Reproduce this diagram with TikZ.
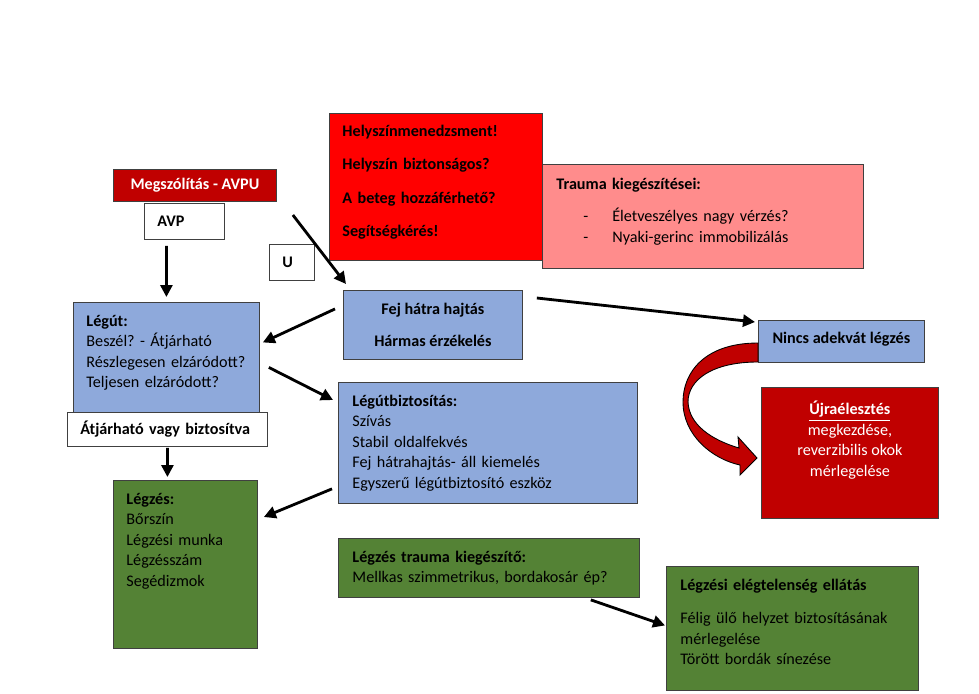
\documentclass[tikz,border=0pt]{standalone}
\usepackage{fontspec}
\setmainfont{Carlito}
\usetikzlibrary{arrows.meta}
\frenchspacing

\definecolor{dred}{RGB}{192,0,0}
\definecolor{tpink}{RGB}{255,140,140}
\definecolor{nblue}{RGB}{142,169,219}
\definecolor{ngreen}{RGB}{84,130,53}
\newcommand{\padb}[1]{\rule[-#1]{0pt}{0pt}}

\begin{document}
\begin{tikzpicture}[x=0.02cm,y=-0.02cm]
\useasboundingbox (0,0) rectangle (979,693);

%style for boxes
\tikzstyle{box} = [rectangle, draw=black!75, line width=0.5pt, anchor=north west, inner ysep=0pt, font=\fontsize{9.2}{11.7}\selectfont]

%boxes with text on the left
\tikzstyle{lbox} = [box, align=left, inner xsep=2.6mm]

%boxes with centred text
\tikzstyle{cbox} = [box, align=center, inner xsep=0pt]

%style for arrows
\tikzstyle{arr} = [-{Triangle[length=2.4mm,width=2.4mm]}, line width=1.6pt]

%place nodes
\node[cbox, fill=dred, text=white, minimum width=32.6mm, minimum height=6.4mm](megsz) at (113,169) {\textbf{Megszólítás - AVPU}};
\node[lbox, fill=white, text width=10.8mm, minimum height=7.2mm](avp) at (144,203) {\textbf{AVP}};
\node[lbox, fill=white, text width=3.8mm, minimum height=7.2mm](u) at (269,244) {\textbf{U}};
\node[lbox, fill=tpink, text width=58.6mm, inner xsep=2.8mm, minimum height=20.8mm](trauma) at (542,164) {\textbf{Trauma kiegészítései:}\\[6.5pt]
  \hspace*{15.3pt}\makebox[16.5pt][l]{-}Életveszélyes nagy vérzés?\\
  \hspace*{15.3pt}\makebox[16.5pt][l]{-}Nyaki-gerinc immobilizálás\padb{7pt}};
\node[lbox, fill=red, text width=37.4mm, minimum height=29.4mm](helysz) at (329,113) {\textbf{Helyszínmenedzsment!}\\[7.4pt]
  \textbf{Helyszín biztonságos?}\\[7.4pt] \textbf{A beteg hozzáférhető?}\\[7.4pt] \textbf{Segítségkérés!}\padb{7pt}};
\node[cbox, fill=nblue, minimum width=35.8mm, minimum height=13.8mm](fej) at (343,290) {\textbf{Fej hátra hajtás}\\[7pt] \textbf{Hármas érzékelés}};
\node[lbox, fill=nblue, text width=32mm, minimum height=22mm](legut) at (73,302) {\textbf{Légút:}\\ Beszél? - Átjárható\\
  Részlegesen elzáródott?\\ Teljesen elzáródott?\padb{7pt}};
\node[lbox, fill=white, text width=34.8mm, minimum height=6.8mm](atj) at (67,412) {\textbf{Átjárható vagy biztosítva}};
\node[lbox, fill=nblue, text width=54.2mm, inner xsep=2.8mm, minimum height=24.2mm](legutb) at (338,382) {\textbf{Légútbiztosítás:}\\
  Szívás\\ Stabil oldalfekvés\\ Fej hátrahajtás- áll kiemelés\\ Egyszerű légútbiztosító eszköz};
\node[lbox, fill=ngreen, text width=23.6mm, minimum height=33.6mm](legzes) at (113,480) {\textbf{Légzés:}\\ Bőrszín\\
  Légzési munka\\ Légzésszám\\ Segédizmok\padb{28pt}};
\node[lbox, fill=ngreen, text width=54.6mm, inner xsep=2.8mm, minimum height=11.8mm](ltrauma) at (338,538) {\textbf{Légzés trauma kiegészítő:}\\
  Mellkas szimmetrikus, bordakosár ép?};
\node[lbox, fill=ngreen, text width=44.8mm, inner xsep=2.8mm, minimum height=24.8mm](elegt) at (666,566) {\textbf{Légzési elégtelenség ellátás}\\[7pt]
  Félig ülő helyzet biztosításának\\ mérlegelése\\ Törött bordák sínezése\padb{7pt}};
\node[cbox, fill=nblue, minimum width=33.2mm, minimum height=8.4mm](nincs) at (758,320) {\textbf{Nincs adekvát légzés}\padb{4pt}};
\node[cbox, fill=dred, text=white, minimum width=35.4mm, minimum height=26.2mm](ujra) at (761,387) {\textbf{\underline{Újraélesztés}}\\
  megkezdése,\\ reverzibilis okok\\ mérlegelése\padb{16pt}};

%connect nodes with arrows
\draw[arr] ([shift={(-22,-29)}]u.north east) -- ([shift={(3,-6)}]fej.north west);
\draw[arr] ([shift={(-18,6)}]avp.south) -- ([shift={(0,-5)}]legut.north);
\draw[arr] ([shift={(-8,-16)}]fej.west) -- ([shift={(3,-15)}]legut.east);
\draw[arr] ([shift={(9,10)}]legut.east) -- ([shift={(-5,18)}]legutb.north west);
\draw[arr] ([shift={(0,1)}]atj.south) -- ([shift={(-18,-3)}]legzes.north);
\draw[arr] ([shift={(-6,-15)}]legutb.south west) -- ([shift={(6,37)}]legzes.north east);
\draw[arr] ([shift={(14,8)}]fej.north east) -- ([shift={(-3,2)}]nincs.north west);
\draw[arr] ([shift={(-49,2)}]ltrauma.south east) -- ([shift={(-1,-3)}]elegt.west);

%curved red arrow
\filldraw[fill=dred, draw=black, line width=0.5pt] (758,343) .. controls (705,343) and (683,372) .. (683,402)
  .. controls (683,435) and (712,459) .. (740,465) -- (740,475) -- (757,458) -- (738,437) -- (739,448)
  .. controls (712,440) and (689,425) .. (688,402) .. controls (688,380) and (712,362) .. (758,362) -- cycle;
\end{tikzpicture}
\end{document}
